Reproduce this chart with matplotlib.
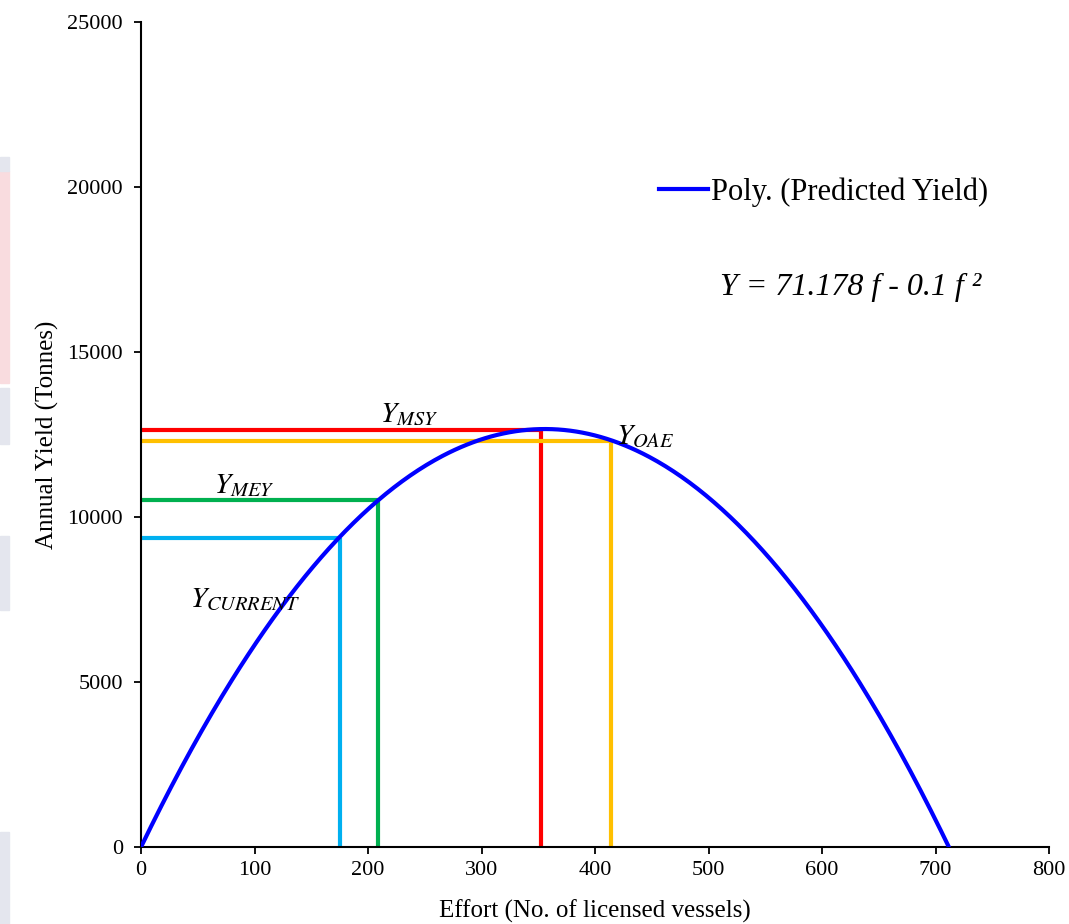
import numpy as np
import matplotlib.pyplot as plt
from matplotlib.patches import Rectangle

plt.rcParams['font.family'] = ['Liberation Serif', 'DejaVu Serif']
plt.rcParams['mathtext.fontset'] = 'stix'

# trendline coefficients (shown on the chart), highest power first
poly_coef = [-0.1, 71.178, 0.0]
f_max = 711.78

# reference points: (effort, yield)
ref_names = ['MSY', 'OAE', 'MEY', 'CURRENT']
ref_effort = [352, 414, 209, 175]
ref_yield = [12650, 12300, 10530, 9370]
ref_colors = ['#ff0000', '#ffc000', '#00b050', '#00b0f0']

# label positions
lab_x = [236, 444, 91, 92]
lab_y = [13080, 12430, 10950, 7480]

fig = plt.figure(figsize=(10.69, 9.24), dpi=100)
ax = fig.add_axes([0.1319, 0.0833, 0.8494, 0.8929])

# faint page bleed on the left edge
fig.patches.append(Rectangle((0, 0.585), 0.008, 0.23, transform=fig.transFigure, color='#f9dcdf', zorder=0))
fig.patches.append(Rectangle((0, 0.815), 0.008, 0.015, transform=fig.transFigure, color='#e4e6ee', zorder=0))
fig.patches.append(Rectangle((0, 0.52), 0.008, 0.06, transform=fig.transFigure, color='#e4e6ee', zorder=0))
fig.patches.append(Rectangle((0, 0.34), 0.008, 0.08, transform=fig.transFigure, color='#e4e6ee', zorder=0))
fig.patches.append(Rectangle((0, 0.0), 0.008, 0.10, transform=fig.transFigure, color='#e4e6ee', zorder=0))

f = np.linspace(0, f_max, 400)
ax.plot(f, np.polyval(poly_coef, f), color='#0000ff', lw=3, label='Poly. (Predicted Yield)', zorder=3)

for e, y, c in zip(ref_effort, ref_yield, ref_colors):
    ax.plot([0, e], [y, y], color=c, lw=3, solid_capstyle='butt', zorder=2)
    ax.plot([e, e], [0, y], color=c, lw=3, solid_capstyle='butt', zorder=2)

for n, x, y in zip(ref_names, lab_x, lab_y):
    ax.text(x, y, '$Y_{%s}$' % n, fontsize=21, ha='center', va='center')

ax.text(510, 16950, 'Y = 71.178 f - 0.1 f ²', fontsize=23, style='italic',
        ha='left', va='center')

ax.set_xlim(0, 800)
ax.set_ylim(0, 25000)
ax.set_xticks(range(0, 801, 100))
ax.set_yticks(range(0, 25001, 5000))
ax.tick_params(labelsize=16, length=5, width=1.3, direction='out', pad=5)
ax.tick_params(axis='y', pad=8)
ax.spines['top'].set_visible(False)
ax.spines['right'].set_visible(False)
ax.spines['left'].set_linewidth(1.5)
ax.spines['bottom'].set_linewidth(1.5)
ax.set_xlabel('Effort (No. of licensed vessels)', fontsize=18, labelpad=14)
ax.set_ylabel('Annual Yield (Tonnes)', fontsize=18, labelpad=6)

leg = ax.legend(loc='upper left', bbox_to_anchor=(0.54, 0.845), frameon=False, fontsize=22,
                handlelength=1.6, handletextpad=0.1)

fig.savefig('out.png', dpi=100)
